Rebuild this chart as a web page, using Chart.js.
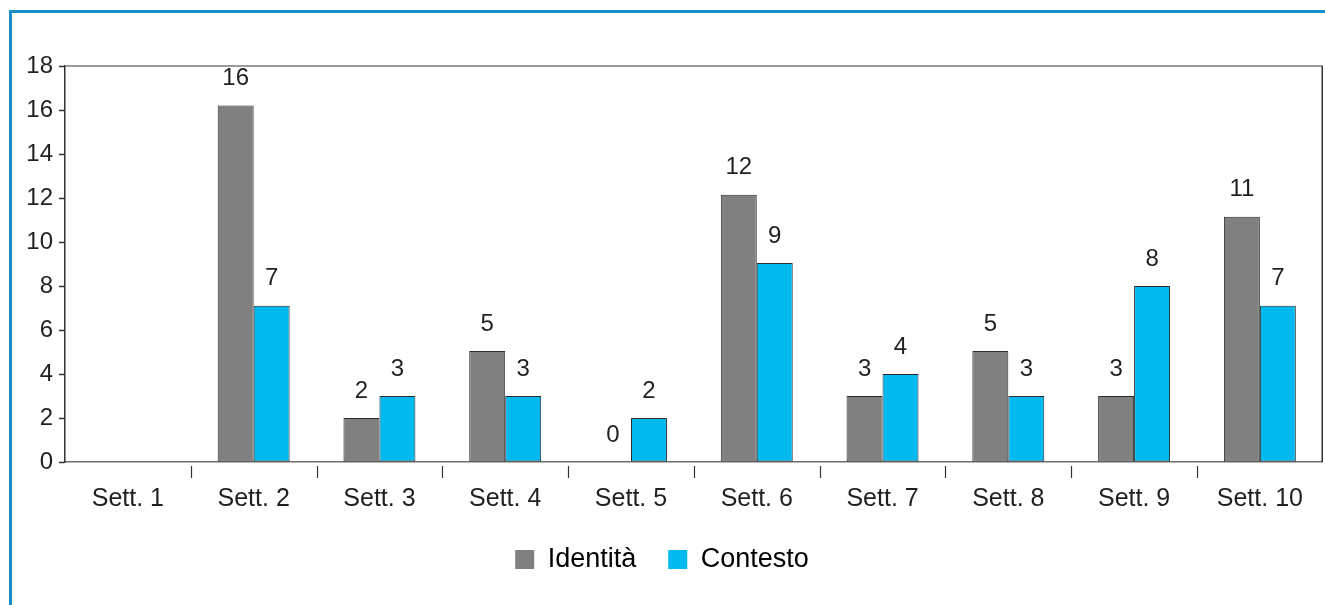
<!DOCTYPE html>
<html>
<head>
<meta charset="utf-8">
<script src="https://cdn.jsdelivr.net/npm/chart.js@4"></script>
<style>
  html, body { margin: 0; padding: 0; background: #fff; }
  #wrap { width: 1325px; height: 605px; position: relative; }
</style>
</head>
<body>
<div id="wrap"><canvas id="myChart"></canvas></div>
<script>
const settimane = ['Sett. 1', 'Sett. 2', 'Sett. 3', 'Sett. 4', 'Sett. 5', 'Sett. 6', 'Sett. 7', 'Sett. 8', 'Sett. 9', 'Sett. 10'];
const identita = [null, 16.2, 2, 5.05, 0, 12.15, 3, 5.05, 3, 11.15];
const contesto = [null, 7.1, 3, 3, 2, 9.05, 4, 3, 8, 7.1];
const yTicks = [0, 2, 4, 6, 8, 10, 12, 14, 16, 18];

const FONT = "'Liberation Sans', Arial, sans-serif";
const TXT = '#231f20';

// cornice blu, bordo area grafico, tacche asse x, etichette valori
const decor = {
  id: 'decor',
  beforeDraw(chart) {
    const ctx = chart.ctx;
    ctx.save();
    ctx.fillStyle = '#1a8dc9';
    ctx.fillRect(9, 10, 3, chart.height - 10);
    ctx.fillRect(9, 10, chart.width - 9, 3);
    ctx.restore();
  },
  afterDraw(chart) {
    const ctx = chart.ctx;
    const a = chart.chartArea;
    const x = chart.scales.x;
    ctx.save();
    ctx.lineWidth = 1.5;
    ctx.strokeStyle = '#7a7a7a';
    ctx.beginPath();
    ctx.moveTo(a.left, a.top);
    ctx.lineTo(a.right, a.top);
    ctx.stroke();
    ctx.strokeStyle = '#333';
    ctx.beginPath();
    ctx.moveTo(a.right - 0.5, a.top);
    ctx.lineTo(a.right - 0.5, a.bottom);
    ctx.stroke();
    // tacche tra le categorie
    const half = (x.getPixelForValue(1) - x.getPixelForValue(0)) / 2;
    ctx.lineWidth = 1.2;
    ctx.strokeStyle = '#333';
    for (let i = 0; i < settimane.length - 1; i++) {
      const px = Math.round(x.getPixelForValue(i) + half) + 0.5;
      ctx.beginPath();
      ctx.moveTo(px, a.bottom + 4);
      ctx.lineTo(px, a.bottom + 16);
      ctx.stroke();
    }
  },
  afterDatasetsDraw(chart) {
    const ctx = chart.ctx;
    ctx.save();
    ctx.font = '24px ' + FONT;
    ctx.fillStyle = TXT;
    ctx.textAlign = 'center';
    ctx.textBaseline = 'bottom';
    chart.data.datasets.forEach((ds, di) => {
      const meta = chart.getDatasetMeta(di);
      meta.data.forEach((el, i) => {
        const v = ds.data[i];
        if (v === null || v === undefined) return;
        ctx.fillText(String(Math.round(v)), el.x, el.y - 15);
      });
    });
    ctx.restore();
  }
};

const data = {
  labels: settimane,
  datasets: [{
    label: 'Identità',
    data: identita,
    backgroundColor: '#808080',
    borderColor: '#2b2b2b',
    borderWidth: 1,
    borderSkipped: false
  }, {
    label: 'Contesto',
    data: contesto,
    backgroundColor: '#00b9ef',
    borderColor: '#2b2b2b',
    borderWidth: 1,
    borderSkipped: false
  }]
};

const config = {
  type: 'bar',
  data: data,
  plugins: [decor],
  options: {
    responsive: true,
    maintainAspectRatio: false,
    animation: false,
    datasets: {
      bar: {
        categoryPercentage: 0.572,
        barPercentage: 1
      }
    },
    layout: {
      padding: { top: 66, right: 1, left: 0, bottom: 22 }
    },
    plugins: {
      tooltip: { enabled: false },
      legend: {
        position: 'bottom',
        labels: {
          boxWidth: 19,
          boxHeight: 19,
          padding: 32,
          color: TXT,
          font: { family: FONT, size: 27 },
          generateLabels(chart) {
            return chart.data.datasets.map((ds, i) => ({
              text: ds.label,
              fillStyle: ds.backgroundColor,
              strokeStyle: ds.backgroundColor,
              lineWidth: 0,
              hidden: false,
              datasetIndex: i
            }));
          }
        }
      }
    },
    scales: {
      x: {
        afterFit(scale) { scale.height = 52; },
        grid: { display: false, drawTicks: false },
        border: { display: true, color: '#6e6e6e', width: 1.5 },
        ticks: {
          padding: 22,
          color: TXT,
          font: { family: FONT, size: 25 }
        }
      },
      y: {
        min: 0,
        max: 18,
        afterFit(scale) { scale.width = 65; },
        afterBuildTicks(scale) { scale.ticks = yTicks.map(v => ({ value: v })); },
        grid: { drawOnChartArea: false, tickLength: 6, color: '#333', tickWidth: 1.5 },
        border: { display: true, color: '#333', width: 1.5 },
        ticks: {
          padding: 6,
          color: TXT,
          font: { family: FONT, size: 24 }
        }
      }
    }
  }
};

const myChart = new Chart(document.getElementById('myChart'), config);
</script>
</body>
</html>
